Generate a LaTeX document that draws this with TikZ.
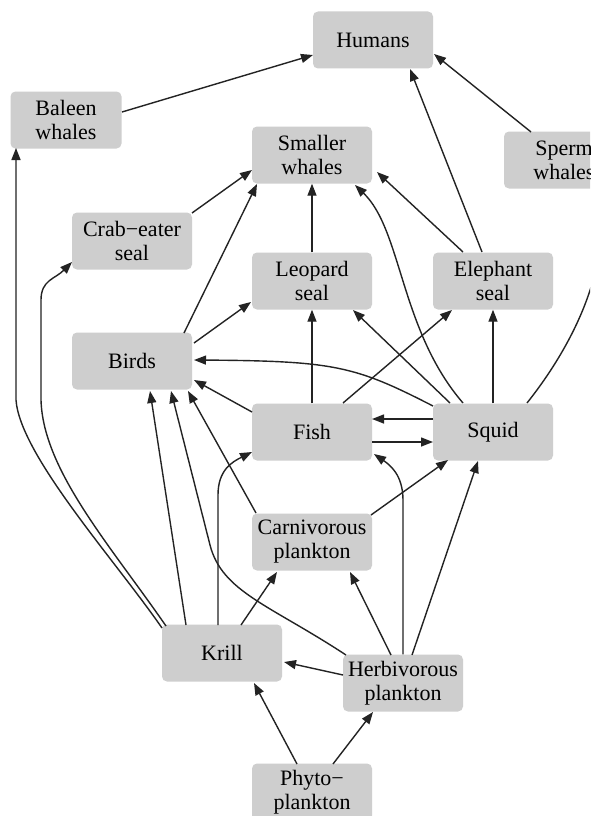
\documentclass[tikz,border=0pt]{standalone}
\usepackage{fontspec}
\setmainfont{Liberation Serif}
\usetikzlibrary{arrows.meta}
\definecolor{nodefill}{RGB}{206,206,206}
\definecolor{edgecol}{RGB}{35,35,35}
\tikzset{
  box/.style={rectangle, rounded corners=5pt, fill=nodefill, draw=none,
    minimum width=120pt, minimum height=57pt, inner sep=0pt, align=center,
    font=\fontsize{22}{24}\selectfont},
  arr/.style={draw=edgecol, line width=1.4pt, -{Triangle[length=12pt,width=9pt]}}
}
\begin{document}
\begin{tikzpicture}[x=1pt,y=-1pt]
\useasboundingbox (0,0) rectangle (590,816);
\clip (0,0) rectangle (590,816);
\fill[white] (0,0) rectangle (590,816);
% nodes
\node[box] (humans) at (373,40) {Humans};
\node[box, minimum width=111pt] (baleen) at (66,120) {Baleen\\whales};
\node[box] (smaller) at (312,155) {Smaller\\whales};
\node[box] (sperm) at (564,160) {Sperm\\whales};
\node[box] (crab) at (132,241) {Crab−eater\\seal};
\node[box] (leopard) at (312,281) {Leopard\\seal};
\node[box] (eleph) at (493,281) {Elephant\\seal};
\node[box] (birds) at (132,361) {Birds};
\node[box] (fish) at (312,432) {Fish};
\node[box] (squid) at (493,432) {Squid};
\node[box] (carn) at (312,542) {Carnivorous\\plankton};
\node[box] (krill) at (222,653) {Krill};
\node[box] (herb) at (403,683) {Herbivorous\\plankton};
\node[box] (phyto) at (312,792) {Phyto−\\plankton};
% edges
\draw[arr] ([shift={(56,-8)}]baleen.center) -- ([shift={(-60,15)}]humans.center);
\draw[arr] ([shift={(-33,-28)}]sperm.center) -- ([shift={(61,14)}]humans.center);
\draw[arr] ([shift={(-11,-29)}]eleph.center) -- ([shift={(37,29)}]humans.center);
\draw[arr] ([shift={(60,-28)}]crab.center) -- ([shift={(-60,15)}]smaller.center);
\draw[arr] ([shift={(52,-28)}]birds.center) -- ([shift={(-55,29)}]smaller.center);
\draw[arr] (leopard.north) -- (smaller.south);
\draw[arr] ([shift={(-30,-29)}]squid.center) .. controls (400,330) and (402,230) .. ([shift={(43,30)}]smaller.center);
\draw[arr] ([shift={(-30,-29)}]eleph.center) -- ([shift={(65,17)}]smaller.center);
\draw[arr] ([shift={(62,-18)}]birds.center) -- ([shift={(-61,21)}]leopard.center);
\draw[arr] (fish.north) -- (leopard.south);
\draw[arr] ([shift={(-43,-29)}]squid.center) -- ([shift={(41,29)}]leopard.center);
\draw[arr] ([shift={(31,-29)}]fish.center) -- ([shift={(-41,29)}]eleph.center);
\draw[arr] (squid.north) -- (eleph.south);
\draw[arr] ([shift={(-60,-26)}]squid.center) .. controls (355,366) and (335,361) .. ([shift={(62,-1)}]birds.center);
\draw[arr] ([shift={(-60,-20)}]fish.center) -- ([shift={(62,19)}]birds.center);
\draw[arr] ([shift={(-36,-28)}]krill.center) -- ([shift={(18,30)}]birds.center);
\draw[arr] ([shift={(-57,-28)}]herb.center) .. controls (270,605) and (222,592) .. (210,545) -- ([shift={(39,30)}]birds.center);
\draw[arr] ([shift={(-56,-29)}]carn.center) -- ([shift={(56,30)}]birds.center);
\draw[arr] ([shift={(-60,-25)}]krill.center) .. controls (115,560) and (20,455) .. (16,400) -- ([shift={(-50,28)}]baleen.center);
\draw[arr] ([shift={(-56,-27)}]krill.center) .. controls (110,545) and (43,470) .. (41,400) -- (41,300) .. controls (41,280) and (55,279) .. ([shift={(-60,21)}]crab.center);
\draw[arr] ([shift={(-4,-28)}]krill.center) -- (218,495) .. controls (218,470) and (232,462) .. ([shift={(-60,20)}]fish.center);
\draw[arr] ([shift={(19,-28)}]krill.center) -- ([shift={(-35,30)}]carn.center);
\draw[arr] ([shift={(-60,-13)}]squid.center) -- ([shift={(60,-13)}]fish.center);
\draw[arr] ([shift={(60,10)}]fish.center) -- ([shift={(-60,10)}]squid.center);
\draw[arr] (herb.north) -- (403,500) .. controls (403,475) and (390,465) .. ([shift={(62,22)}]fish.center);
\draw[arr] ([shift={(59,-27)}]carn.center) -- ([shift={(-45,28)}]squid.center);
\draw[arr] ([shift={(9,-28)}]herb.center) -- ([shift={(-15,29)}]squid.center);
\draw[arr] ([shift={(-12,-28)}]herb.center) -- ([shift={(38,30)}]carn.center);
\draw[arr] ([shift={(-60,-8)}]herb.center) -- ([shift={(62,9)}]krill.center);
\draw[arr] ([shift={(-15,-28)}]phyto.center) -- ([shift={(32,30)}]krill.center);
\draw[arr] ([shift={(21,-28)}]phyto.center) -- ([shift={(-30,29)}]herb.center);
\draw[arr] ([shift={(34,-29)}]squid.center) .. controls (585,330) and (612,250) .. ([shift={(27,30)}]sperm.center);
\end{tikzpicture}
\end{document}
